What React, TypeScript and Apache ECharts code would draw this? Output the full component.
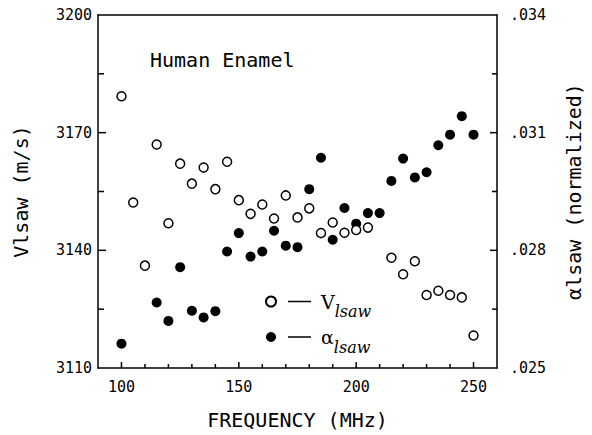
import React, { useEffect, useRef } from 'react';
import * as echarts from 'echarts';

// Velocity (open circles), left axis, m/s
const freqV = [100, 105, 110, 115, 120, 125, 130, 135, 140, 145, 150, 155, 160, 165, 170, 175, 180, 185, 190, 195, 200, 205, 215, 220, 225, 230, 235, 240, 245, 250];
const velocity = [3179.3, 3152.2, 3136.1, 3167.0, 3146.9, 3162.1, 3157.0, 3161.1, 3155.6, 3162.6, 3152.8, 3149.3, 3151.7, 3148.1, 3154.0, 3148.4, 3150.7, 3144.4, 3147.1, 3144.5, 3145.2, 3145.8, 3138.1, 3133.9, 3137.2, 3128.6, 3129.7, 3128.6, 3128.0, 3118.3];

// Attenuation (filled circles), right axis, normalized
const freqA = [100, 115, 120, 125, 130, 135, 140, 145, 150, 155, 160, 165, 170, 175, 180, 185, 190, 195, 200, 205, 210, 215, 220, 225, 230, 235, 240, 245, 250];
const attenuation = [0.02562, 0.02667, 0.0262, 0.02757, 0.02646, 0.02629, 0.02645, 0.02797, 0.02844, 0.02784, 0.02797, 0.0285, 0.02812, 0.02808, 0.02956, 0.03036, 0.02827, 0.02908, 0.02868, 0.02895, 0.02895, 0.02977, 0.03034, 0.02986, 0.02999, 0.03068, 0.03095, 0.03142, 0.03095];

// Tick labels shown on each axis
const xLabels = [100, 150, 200, 250];
const vLabels = [3110, 3140, 3170, 3200];
const aLabels = ['.025', '.028', '.031', '.034'];

// Tick mark values (major / minor)
const xMajorTicks = [100, 150, 200, 250];
const xMinorTicks = [110, 120, 130, 140, 160, 170, 180, 190, 210, 220, 230, 240];
const vMajorTicks = [3140, 3170];
const vMinorTicks = [3125, 3155, 3185];
const aMajorTicks = [0.028, 0.031];
const aMinorTicks = [0.0265, 0.0295, 0.0325];

export default function App() {
  const ref = useRef<HTMLDivElement>(null);
  useEffect(() => {
    document.body.style.margin = '0';
    const chart = echarts.init(ref.current!, null, { renderer: 'svg' });
    const mono = 'DejaVu Sans Mono';
    const serif = 'DejaVu Serif';
    const ink = '#000';
    const tickLabel = { fontFamily: mono, fontSize: 15, color: ink };
    const nameStyle = { fontFamily: mono, fontSize: 20, color: ink };
    const axisLine = { show: true, onZero: false, lineStyle: { color: ink, width: 1.5 } };
    chart.setOption({
      animation: false,
      backgroundColor: '#fff',
      title: {
        text: 'Human Enamel',
        left: 150,
        top: 50,
        padding: 0,
        textStyle: { fontFamily: mono, fontSize: 20, fontWeight: 'normal', color: ink },
      },
      grid: { left: 98, top: 15, width: 407, height: 357, show: false },
      legend: {
        orient: 'vertical',
        left: 265,
        top: 292,
        padding: 0,
        itemGap: 8,
        itemWidth: 10,
        itemHeight: 10,
        icon: 'circle',
        data: ['V', 'α'],
        formatter: (name: string) =>
          name === 'V' ? '{g1| }{ln| }{g2| }{v|V}{s|lsaw}' : '{g1| }{ln| }{g2| }{v|α}{s|lsaw}',
        textStyle: {
          color: ink,
          rich: {
            g1: { width: 7 },
            ln: { width: 23, height: 1.5, backgroundColor: ink },
            g2: { width: 10 },
            v: { fontFamily: serif, fontSize: 19, color: ink, lineHeight: 34, verticalAlign: 'middle' },
            s: { fontFamily: serif, fontStyle: 'italic', fontSize: 16, color: ink, height: 14, lineHeight: 14, verticalAlign: 'bottom' },
          },
        },
      },
      xAxis: [
        {
          type: 'value',
          min: 90,
          max: 260,
          interval: 10,
          position: 'bottom',
          axisLine,
          axisTick: { show: false },
          axisLabel: {
            margin: 11,
            formatter: (v: number) => (xLabels.includes(Math.round(v)) ? String(Math.round(v)) : ''),
            ...tickLabel,
          },
          splitLine: { show: false },
          name: 'FREQUENCY (MHz)',
          nameLocation: 'middle',
          nameGap: 42,
          nameTextStyle: nameStyle,
        },
        {
          type: 'value',
          min: 90,
          max: 260,
          position: 'top',
          axisLine,
          axisTick: { show: false },
          axisLabel: { show: false },
          splitLine: { show: false },
        },
      ],
      yAxis: [
        {
          type: 'value',
          min: 3110,
          max: 3200,
          interval: 15,
          position: 'left',
          axisLine,
          axisTick: { show: false },
          axisLabel: {
            margin: 6,
            formatter: (v: number) => (vLabels.includes(Math.round(v)) ? String(Math.round(v)) : ''),
            ...tickLabel,
          },
          splitLine: { show: false },
          name: 'Vlsaw (m/s)',
          nameLocation: 'middle',
          nameRotate: 90,
          nameGap: 67,
          nameTextStyle: nameStyle,
        },
        {
          type: 'value',
          min: 0.025,
          max: 0.034,
          interval: 0.0015,
          position: 'right',
          axisLine,
          axisTick: { show: false },
          axisLabel: {
            margin: 13,
            formatter: (v: number) => {
              const s = v.toFixed(3).replace(/^0/, '');
              return aLabels.includes(s) && Math.round((v - 0.025) / 0.0015) % 2 === 0 ? s : '';
            },
            ...tickLabel,
          },
          splitLine: { show: false },
          name: 'αlsaw (normalized)',
          nameLocation: 'middle',
          nameRotate: 90,
          nameGap: 67,
          nameTextStyle: nameStyle,
        },
      ],
      series: [
        {
          type: 'scatter',
          name: 'α',
          xAxisIndex: 0,
          yAxisIndex: 1,
          data: freqA.map((f, i) => [f, attenuation[i]]),
          symbol: 'circle',
          symbolSize: 10,
          itemStyle: { color: ink, opacity: 1 },
          z: 2,
        },
        {
          type: 'scatter',
          name: 'V',
          xAxisIndex: 0,
          yAxisIndex: 0,
          data: freqV.map((f, i) => [f, velocity[i]]),
          symbol: 'circle',
          symbolSize: 9,
          itemStyle: { color: '#fff', borderColor: ink, borderWidth: 1.5, opacity: 1 },
          z: 3,
        },
      ],
    });

    // Inward tick marks, positioned through the chart's own axis scales
    const px = (finder: any, v: number) => Number(chart.convertToPixel(finder, v));
    const x0 = px({ xAxisIndex: 0 }, 90);
    const x1 = px({ xAxisIndex: 0 }, 260);
    const yBottom = px({ yAxisIndex: 0 }, 3110);
    const tickShape = { stroke: ink, lineWidth: 1.5, fill: null };
    const ticks: any[] = [];
    const xTick = (v: number, len: number) => {
      const x = px({ xAxisIndex: 0 }, v);
      ticks.push({ type: 'line', shape: { x1: x, y1: yBottom, x2: x, y2: yBottom - len }, style: tickShape, z: 100 });
    };
    const yTick = (axis: number, v: number, len: number, fromX: number, dir: number) => {
      const y = px({ yAxisIndex: axis }, v);
      ticks.push({ type: 'line', shape: { x1: fromX, y1: y, x2: fromX + dir * len, y2: y }, style: tickShape, z: 100 });
    };
    if (isFinite(x0) && isFinite(x1) && isFinite(yBottom)) {
      xMajorTicks.forEach((v) => xTick(v, 6));
      xMinorTicks.forEach((v) => xTick(v, 4));
      vMajorTicks.forEach((v) => yTick(0, v, 8, x0, 1));
      vMinorTicks.forEach((v) => yTick(0, v, 6, x0, 1));
      aMajorTicks.forEach((v) => yTick(1, v, 7, x1, -1));
      aMinorTicks.forEach((v) => yTick(1, v, 5, x1, -1));
      chart.setOption({ graphic: { elements: ticks } });
    }

    return () => chart.dispose();
  }, []);
  return <div ref={ref} style={{ width: 592, height: 435 }} />;
}
